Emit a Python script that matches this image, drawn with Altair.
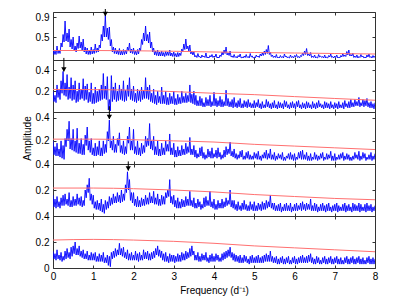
import altair as alt
import pandas as pd

FREQ_STEP = 0.025  # spectrum sampled every 0.025 d^-1 from 0 to 8

# AMPn: amplitudes at f = 0, 0.05, ... 8.00 ; MIDn: amplitudes at f = 0.025, 0.075, ... 7.975
AMP1 = [0.25,0.22,0.32,0.24,0.38,0.55,0.82,0.58,0.66,0.45,
        0.5,0.32,0.38,0.52,0.4,0.46,0.3,0.28,0.24,0.3,
        0.25,0.36,0.28,0.34,0.55,0.72,0.93,0.68,0.7,0.45,
        0.3,0.28,0.24,0.27,0.22,0.25,0.24,0.3,0.38,0.26,
        0.28,0.22,0.25,0.28,0.45,0.58,0.72,0.55,0.6,0.4,
        0.28,0.22,0.24,0.2,0.22,0.19,0.21,0.2,0.24,0.18,
        0.2,0.17,0.19,0.18,0.26,0.36,0.46,0.32,0.34,0.22,
        0.2,0.13,0.17,0.11,0.14,0.12,0.18,0.1,0.13,0.15,
        0.12,0.16,0.1,0.14,0.2,0.24,0.3,0.18,0.22,0.12,
        0.15,0.11,0.13,0.16,0.1,0.12,0.15,0.11,0.17,0.12,
        0.1,0.14,0.12,0.16,0.18,0.22,0.25,0.33,0.2,0.14,
        0.12,0.15,0.1,0.13,0.11,0.16,0.12,0.1,0.14,0.11,
        0.13,0.15,0.11,0.13,0.18,0.22,0.27,0.16,0.19,0.12,
        0.14,0.1,0.15,0.12,0.11,0.14,0.1,0.13,0.16,0.11,
        0.12,0.14,0.1,0.13,0.17,0.14,0.21,0.24,0.15,0.18,
        0.12,0.14,0.11,0.15,0.12,0.1,0.14,0.16,0.11,0.13,0.12]
MID1 = [0.15,0.15,0.17,0.17,0.3,0.4,0.42,0.4,0.3,0.26,
        0.22,0.2,0.27,0.28,0.24,0.2,0.16,0.15,0.15,0.16,
        0.17,0.19,0.2,0.28,0.42,0.5,0.5,0.45,0.32,0.2,
        0.17,0.16,0.15,0.14,0.14,0.15,0.16,0.22,0.18,0.17,
        0.15,0.14,0.16,0.22,0.35,0.42,0.42,0.38,0.28,0.2,
        0.14,0.13,0.12,0.12,0.12,0.11,0.13,0.13,0.12,0.11,
        0.11,0.1,0.11,0.13,0.2,0.25,0.26,0.22,0.16,0.14,
        0.1,0.09,0.1,0.08,0.1,0.09,0.08,0.08,0.1,0.09,
        0.1,0.08,0.08,0.11,0.14,0.17,0.14,0.13,0.1,0.09,
        0.09,0.08,0.1,0.08,0.08,0.09,0.09,0.08,0.1,0.08,
        0.08,0.1,0.09,0.12,0.13,0.15,0.17,0.15,0.11,0.09,
        0.09,0.08,0.08,0.09,0.08,0.1,0.08,0.08,0.09,0.08,
        0.1,0.09,0.08,0.11,0.13,0.15,0.13,0.12,0.09,0.09,
        0.08,0.08,0.1,0.09,0.08,0.08,0.08,0.1,0.09,0.08,
        0.09,0.08,0.08,0.1,0.11,0.11,0.14,0.12,0.12,0.09,
        0.09,0.08,0.09,0.1,0.08,0.08,0.1,0.09,0.08,0.09]

AMP2 = [0.2,0.16,0.26,0.22,0.3,0.39,0.28,0.36,0.24,0.33,
        0.26,0.3,0.2,0.28,0.22,0.32,0.25,0.27,0.19,0.28,
        0.18,0.24,0.2,0.22,0.26,0.37,0.25,0.34,0.12,0.35,
        0.24,0.28,0.2,0.26,0.22,0.3,0.21,0.26,0.33,0.22,
        0.25,0.18,0.22,0.2,0.24,0.21,0.33,0.24,0.26,0.18,
        0.22,0.16,0.2,0.15,0.24,0.16,0.2,0.14,0.18,0.15,
        0.2,0.13,0.17,0.14,0.2,0.15,0.18,0.16,0.26,0.17,
        0.2,0.16,0.11,0.15,0.13,0.09,0.14,0.12,0.16,0.1,
        0.19,0.13,0.11,0.15,0.12,0.1,0.21,0.13,0.1,0.12,
        0.14,0.09,0.11,0.13,0.08,0.11,0.1,0.12,0.09,0.08,
        0.11,0.09,0.12,0.08,0.1,0.07,0.12,0.1,0.08,0.09,
        0.11,0.07,0.1,0.09,0.08,0.11,0.1,0.07,0.09,0.1,
        0.08,0.1,0.11,0.07,0.09,0.08,0.1,0.09,0.07,0.1,
        0.08,0.09,0.11,0.08,0.07,0.1,0.09,0.08,0.1,0.07,
        0.09,0.08,0.1,0.07,0.09,0.11,0.08,0.1,0.12,0.09,
        0.12,0.1,0.14,0.09,0.12,0.11,0.13,0.09,0.1,0.08,0.09]
MID2 = [0.1,0.09,0.14,0.12,0.18,0.16,0.15,0.12,0.13,0.11,
        0.12,0.09,0.1,0.12,0.13,0.11,0.12,0.09,0.1,0.08,
        0.08,0.09,0.1,0.11,0.12,0.13,0.12,0.02,0.01,0.1,
        0.12,0.1,0.11,0.12,0.11,0.1,0.11,0.15,0.12,0.11,
        0.1,0.09,0.11,0.1,0.12,0.13,0.13,0.12,0.1,0.09,
        0.08,0.07,0.09,0.08,0.08,0.08,0.07,0.07,0.08,0.08,
        0.07,0.07,0.08,0.08,0.09,0.09,0.09,0.1,0.09,0.08,
        0.07,0.06,0.06,0.06,0.05,0.05,0.06,0.06,0.05,0.06,
        0.06,0.05,0.06,0.05,0.05,0.06,0.06,0.05,0.05,0.04,
        0.05,0.04,0.05,0.04,0.04,0.05,0.04,0.05,0.04,0.04,
        0.04,0.05,0.04,0.03,0.04,0.04,0.05,0.04,0.03,0.04,
        0.04,0.03,0.04,0.04,0.03,0.05,0.04,0.03,0.04,0.04,
        0.03,0.05,0.04,0.03,0.04,0.03,0.04,0.04,0.03,0.04,
        0.03,0.04,0.05,0.04,0.03,0.04,0.04,0.03,0.04,0.03,
        0.04,0.03,0.04,0.04,0.03,0.05,0.04,0.04,0.05,0.05,
        0.06,0.06,0.05,0.06,0.05,0.06,0.05,0.04,0.04,0.03]

AMP3 = [0.2,0.15,0.18,0.13,0.2,0.16,0.22,0.3,0.37,0.22,
        0.3,0.2,0.31,0.18,0.22,0.17,0.25,0.32,0.2,0.22,
        0.14,0.18,0.15,0.2,0.14,0.2,0.17,0.28,0.38,0.2,
        0.24,0.17,0.22,0.27,0.16,0.2,0.15,0.24,0.32,0.2,
        0.3,0.15,0.2,0.14,0.18,0.16,0.24,0.22,0.35,0.2,
        0.24,0.15,0.2,0.13,0.18,0.14,0.2,0.17,0.26,0.14,
        0.18,0.12,0.15,0.12,0.16,0.13,0.18,0.15,0.23,0.13,
        0.16,0.12,0.09,0.14,0.15,0.1,0.08,0.13,0.11,0.14,
        0.09,0.12,0.14,0.1,0.08,0.12,0.15,0.13,0.19,0.11,
        0.13,0.09,0.08,0.11,0.12,0.07,0.1,0.11,0.08,0.07,
        0.1,0.09,0.11,0.07,0.08,0.1,0.12,0.09,0.13,0.08,
        0.1,0.07,0.09,0.08,0.1,0.06,0.07,0.09,0.1,0.08,
        0.09,0.06,0.1,0.11,0.12,0.08,0.1,0.07,0.09,0.06,
        0.1,0.08,0.07,0.09,0.1,0.06,0.09,0.08,0.11,0.07,
        0.09,0.06,0.08,0.09,0.1,0.07,0.09,0.08,0.06,0.07,
        0.1,0.08,0.11,0.07,0.1,0.09,0.06,0.08,0.1,0.07,0.09]
MID3 = [0.08,0.07,0.07,0.06,0.05,0.04,0.15,0.2,0.13,0.12,
        0.11,0.1,0.09,0.09,0.08,0.08,0.16,0.12,0.1,0.08,
        0.07,0.07,0.08,0.07,0.07,0.09,0.1,0.2,0.14,0.12,
        0.1,0.1,0.16,0.1,0.09,0.08,0.09,0.18,0.12,0.12,
        0.09,0.08,0.08,0.07,0.09,0.1,0.15,0.16,0.13,0.12,
        0.08,0.08,0.07,0.07,0.08,0.08,0.11,0.11,0.08,0.08,
        0.06,0.06,0.07,0.07,0.08,0.08,0.09,0.1,0.08,0.08,
        0.06,0.05,0.06,0.07,0.05,0.04,0.05,0.06,0.05,0.05,
        0.06,0.05,0.06,0.04,0.05,0.06,0.08,0.09,0.07,0.06,
        0.05,0.04,0.05,0.06,0.04,0.04,0.05,0.04,0.04,0.04,
        0.05,0.04,0.04,0.03,0.05,0.05,0.04,0.05,0.04,0.04,
        0.03,0.04,0.05,0.04,0.03,0.03,0.05,0.04,0.04,0.03,
        0.03,0.04,0.05,0.04,0.04,0.04,0.03,0.03,0.03,0.04,
        0.04,0.03,0.04,0.05,0.03,0.04,0.04,0.05,0.03,0.03,
        0.03,0.04,0.04,0.05,0.03,0.04,0.04,0.03,0.03,0.04,
        0.05,0.04,0.03,0.04,0.05,0.03,0.04,0.04,0.03,0.04]

AMP4 = [0.16,0.13,0.15,0.11,0.14,0.16,0.17,0.13,0.18,0.12,
        0.15,0.13,0.17,0.14,0.15,0.12,0.2,0.24,0.29,0.17,
        0.16,0.11,0.12,0.1,0.13,0.09,0.12,0.11,0.15,0.14,
        0.17,0.15,0.18,0.16,0.2,0.17,0.24,0.34,0.28,0.18,
        0.18,0.13,0.15,0.12,0.14,0.13,0.16,0.14,0.18,0.15,
        0.19,0.14,0.17,0.13,0.16,0.15,0.18,0.2,0.28,0.15,
        0.16,0.12,0.14,0.11,0.13,0.12,0.15,0.13,0.19,0.12,
        0.14,0.1,0.13,0.11,0.09,0.14,0.15,0.12,0.19,0.11,
        0.13,0.09,0.12,0.1,0.13,0.11,0.14,0.12,0.2,0.12,
        0.12,0.09,0.11,0.08,0.1,0.12,0.09,0.08,0.11,0.09,
        0.11,0.08,0.1,0.09,0.11,0.1,0.12,0.11,0.16,0.1,
        0.1,0.08,0.09,0.1,0.07,0.09,0.1,0.08,0.1,0.07,
        0.09,0.1,0.08,0.1,0.11,0.09,0.1,0.09,0.13,0.08,
        0.1,0.09,0.07,0.09,0.1,0.08,0.09,0.1,0.07,0.08,
        0.09,0.1,0.08,0.07,0.09,0.1,0.08,0.09,0.07,0.1,
        0.09,0.08,0.1,0.09,0.07,0.09,0.1,0.08,0.09,0.07,0.08]
MID4 = [0.07,0.06,0.07,0.06,0.08,0.08,0.09,0.08,0.07,0.07,
        0.08,0.08,0.09,0.08,0.07,0.08,0.14,0.18,0.12,0.09,
        0.06,0.05,0.05,0.04,0.03,0.02,0.05,0.06,0.08,0.09,
        0.1,0.1,0.11,0.1,0.11,0.12,0.18,0.2,0.12,0.1,
        0.08,0.07,0.07,0.07,0.08,0.08,0.09,0.09,0.1,0.1,
        0.09,0.09,0.08,0.08,0.09,0.09,0.14,0.15,0.1,0.09,
        0.07,0.06,0.06,0.06,0.07,0.07,0.08,0.08,0.08,0.07,
        0.06,0.06,0.07,0.05,0.06,0.07,0.08,0.08,0.07,0.06,
        0.05,0.05,0.06,0.06,0.06,0.07,0.08,0.09,0.07,0.06,
        0.05,0.04,0.05,0.04,0.05,0.05,0.04,0.04,0.05,0.04,
        0.04,0.04,0.05,0.04,0.05,0.05,0.06,0.07,0.06,0.05,
        0.04,0.04,0.04,0.03,0.04,0.04,0.04,0.04,0.03,0.04,
        0.04,0.04,0.05,0.04,0.05,0.04,0.05,0.05,0.04,0.04,
        0.04,0.03,0.04,0.04,0.04,0.03,0.04,0.04,0.03,0.04,
        0.04,0.03,0.04,0.04,0.04,0.03,0.04,0.04,0.03,0.04,
        0.04,0.04,0.03,0.04,0.04,0.03,0.04,0.04,0.03,0.04]

AMP5 = [0.13,0.11,0.14,0.1,0.12,0.09,0.13,0.15,0.12,0.16,
        0.17,0.2,0.15,0.17,0.13,0.14,0.11,0.13,0.1,0.12,
        0.11,0.12,0.09,0.11,0.1,0.12,0.08,0.1,0.09,0.12,
        0.13,0.15,0.14,0.19,0.15,0.16,0.12,0.14,0.11,0.12,
        0.1,0.13,0.11,0.12,0.1,0.14,0.12,0.13,0.11,0.12,
        0.13,0.15,0.17,0.14,0.13,0.11,0.12,0.09,0.11,0.1,
        0.1,0.09,0.11,0.1,0.12,0.11,0.13,0.12,0.15,0.17,
        0.13,0.1,0.12,0.09,0.11,0.1,0.12,0.08,0.1,0.11,
        0.09,0.11,0.1,0.08,0.11,0.12,0.13,0.14,0.16,0.12,
        0.11,0.1,0.09,0.1,0.08,0.1,0.09,0.07,0.09,0.1,
        0.08,0.09,0.1,0.08,0.09,0.1,0.11,0.1,0.13,0.09,
        0.08,0.09,0.07,0.08,0.09,0.07,0.08,0.09,0.06,0.08,
        0.09,0.07,0.08,0.09,0.1,0.08,0.09,0.1,0.11,0.08,
        0.07,0.09,0.08,0.06,0.08,0.09,0.07,0.08,0.09,0.07,
        0.08,0.09,0.07,0.08,0.06,0.08,0.09,0.07,0.08,0.09,
        0.07,0.08,0.09,0.07,0.08,0.06,0.08,0.09,0.07,0.08,0.07]
MID5 = [0.07,0.06,0.07,0.06,0.05,0.06,0.07,0.08,0.07,0.09,
        0.11,0.1,0.1,0.09,0.08,0.07,0.07,0.06,0.06,0.06,
        0.06,0.05,0.05,0.05,0.05,0.04,0.04,0.02,0.01,0.07,
        0.08,0.09,0.1,0.1,0.09,0.08,0.07,0.06,0.06,0.06,
        0.06,0.06,0.05,0.06,0.06,0.07,0.07,0.06,0.06,0.07,
        0.08,0.1,0.09,0.08,0.06,0.05,0.05,0.04,0.05,0.05,
        0.04,0.05,0.05,0.05,0.06,0.06,0.07,0.08,0.09,0.1,
        0.06,0.06,0.05,0.05,0.06,0.06,0.05,0.04,0.05,0.05,
        0.05,0.06,0.05,0.05,0.06,0.07,0.08,0.09,0.08,0.06,
        0.05,0.05,0.04,0.04,0.04,0.05,0.04,0.03,0.04,0.04,
        0.04,0.04,0.04,0.04,0.04,0.05,0.05,0.05,0.05,0.04,
        0.04,0.03,0.03,0.04,0.03,0.03,0.04,0.03,0.03,0.04,
        0.03,0.03,0.04,0.04,0.04,0.04,0.04,0.05,0.04,0.03,
        0.03,0.04,0.03,0.03,0.04,0.03,0.03,0.04,0.03,0.03,
        0.04,0.03,0.03,0.03,0.03,0.04,0.03,0.03,0.04,0.03,
        0.03,0.04,0.03,0.03,0.03,0.03,0.04,0.03,0.03,0.03]

RED_FREQ = [0, 1, 2, 3, 4, 5, 6, 7, 8]
RED1 = [0.23, 0.23, 0.225, 0.215, 0.2, 0.19, 0.18, 0.17, 0.16]
RED2 = [0.217, 0.215, 0.21, 0.196, 0.18, 0.167, 0.148, 0.13, 0.113]
RED3 = [0.215, 0.215, 0.21, 0.2, 0.19, 0.17, 0.155, 0.14, 0.125]
RED4 = [0.215, 0.215, 0.21, 0.2, 0.185, 0.165, 0.15, 0.135, 0.125]
RED5 = [0.215, 0.22, 0.215, 0.205, 0.19, 0.17, 0.155, 0.14, 0.125]

ARROW_FREQ = [1.30, 0.27, 1.40, 1.87, None]
ARROW_TIP = [0.92, 0.39, 0.39, 0.35, None]
ARROW_TOP = [1.06, 0.52, 0.50, 0.42, None]

Y_DOMAINS = [[0.04, 1.0], [0, 0.5], [0, 0.45], [0, 0.4], [0, 0.4]]
Y_TICKS = [[0.5, 0.9], [0.2, 0.4], [0.2, 0.4], [0.2, 0.4], [0, 0.2, 0.4]]
HEIGHTS = [48, 52, 52, 52, 52]
X_TICKS = [0, 1, 2, 3, 4, 5, 6, 7, 8]

AMPS = [AMP1, AMP2, AMP3, AMP4, AMP5]
MIDS = [MID1, MID2, MID3, MID4, MID5]
REDS = [RED1, RED2, RED3, RED4, RED5]


def spectrum(k):
    vals = []
    for a, m in zip(AMPS[k], MIDS[k]):
        vals += [a, m]
    vals.append(AMPS[k][-1])
    return pd.DataFrame({"f": [round(i * FREQ_STEP, 3) for i in range(len(vals))], "a": vals})


def panel(k):
    spec = spectrum(k)
    red = pd.DataFrame({"f": RED_FREQ, "a": REDS[k]})
    xs = alt.Scale(domain=[0, 8], nice=False)
    ys = alt.Scale(domain=Y_DOMAINS[k], nice=False, zero=False)
    last = k == 4

    common = dict(offset=-3, tickSize=3, domain=False, grid=False, ticks=True)
    xb_kw = dict(values=X_TICKS, orient="bottom", labels=last, labelFlush=False,
                 labelPadding=3, titlePadding=4, format="d", **common)
    xb_title = "Frequency (d⁻¹)" if last else ""
    xt_kw = dict(values=X_TICKS, orient="top", labels=False, **common)
    yl_kw = dict(values=Y_TICKS[k], orient="left", labels=True, format="~g",
                 labelPadding=4, titlePadding=3, **common)
    yl_title = "Amplitude" if k == 2 else ""
    yr_kw = dict(values=Y_TICKS[k], orient="right", labels=False, **common)

    blue = alt.Chart(spec).mark_line(color="#0000ff", strokeWidth=0.9, clip=True).encode(
        x=alt.X("f:Q", scale=xs, axis=alt.Axis(**xb_kw), title=xb_title),
        y=alt.Y("a:Q", scale=ys, axis=alt.Axis(**yl_kw), title=yl_title),
    )
    redl = alt.Chart(red).mark_line(color="#ff7070", strokeWidth=1, interpolate="monotone").encode(
        x=alt.X("f:Q", scale=xs, axis=alt.Axis(**xt_kw), title=""),
        y=alt.Y("a:Q", scale=ys, axis=alt.Axis(**yr_kw), title=""),
    )
    layers = [blue, redl]
    if ARROW_FREQ[k] is not None:
        arr = pd.DataFrame({"f": [ARROW_FREQ[k]], "tip": [ARROW_TIP[k]], "top": [ARROW_TOP[k]]})
        shaft = alt.Chart(arr).mark_rule(color="black", strokeWidth=1, clip=False).encode(
            x=alt.X("f:Q", scale=xs, axis=None),
            y=alt.Y("top:Q", scale=ys, axis=None),
            y2="tip:Q",
        )
        head = alt.Chart(arr).mark_point(shape="triangle-down", filled=True, color="black",
                                         size=28, opacity=1, yOffset=-2, clip=False).encode(
            x=alt.X("f:Q", scale=xs, axis=None),
            y=alt.Y("tip:Q", scale=ys, axis=None),
        )
        layers += [shaft, head]
    return alt.layer(*layers).resolve_axis(x="independent", y="independent").properties(
        width=322, height=HEIGHTS[k])


chart = alt.vconcat(*[panel(k) for k in range(5)], spacing=0, bounds="flush").properties(
    padding={"left": 13, "top": 0, "right": 5, "bottom": 5}
).configure_view(stroke="#333333", strokeWidth=1).configure_axis(
    labelFont="Liberation Sans", titleFont="Liberation Sans", labelFontSize=10, titleFontSize=10,
    titleFontWeight="normal", labelColor="black", titleColor="black", tickColor="#333333"
)

chart.save("out.html", embed_options={"renderer": "svg", "actions": False})
